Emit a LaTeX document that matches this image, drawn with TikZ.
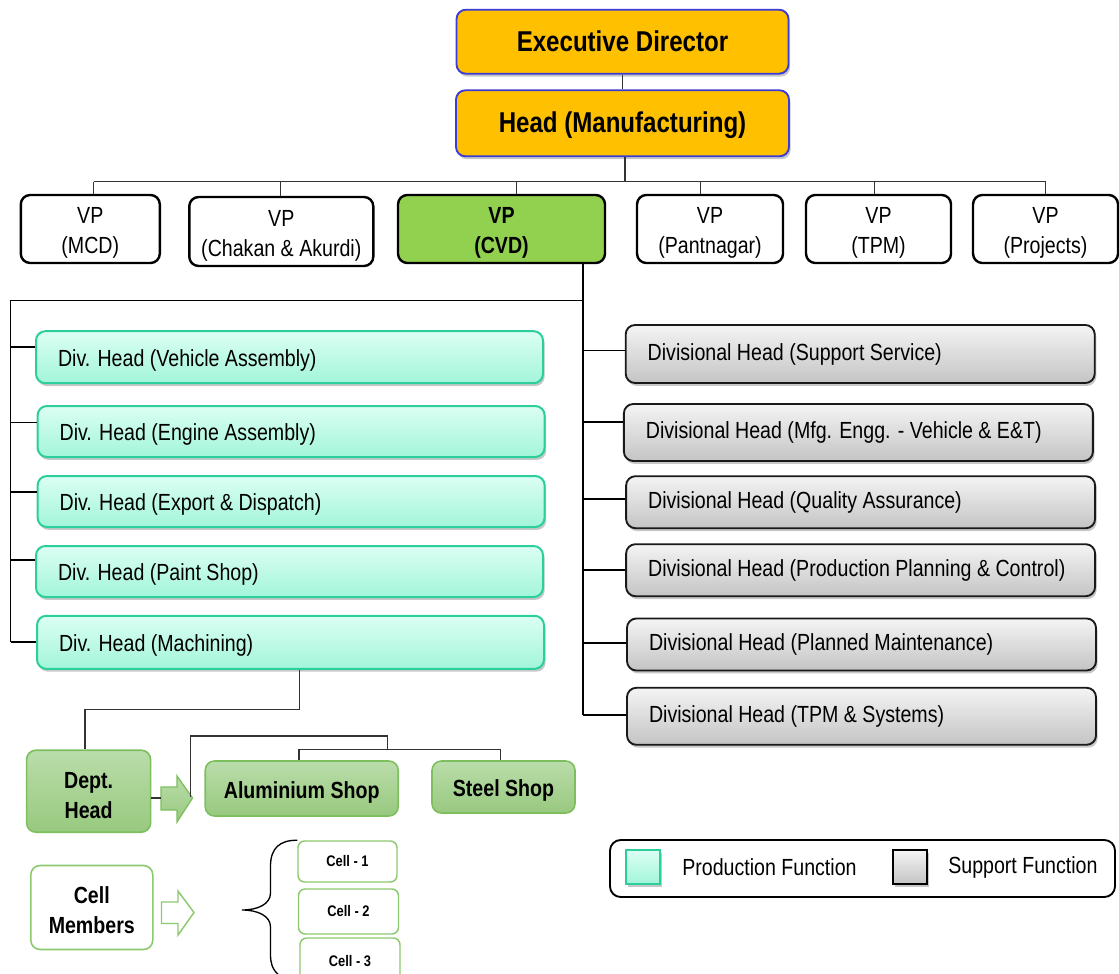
\documentclass[tikz,border=0pt]{standalone}
\usepackage{fontspec}
\setmainfont[FakeStretch=0.84]{Liberation Sans}
\usetikzlibrary{shadows}
\definecolor{gold}{HTML}{FFC000}
\definecolor{goldedge}{HTML}{3B3BD6}
\definecolor{cvdgreen}{HTML}{92D050}
\definecolor{minttop}{HTML}{DCFFF3}
\definecolor{mintbot}{HTML}{A2F5D9}
\definecolor{mintedge}{HTML}{2CCF9C}
\definecolor{graytop}{HTML}{F4F4F4}
\definecolor{graybot}{HTML}{C4C4C4}
\definecolor{deptop}{HTML}{BADDAA}
\definecolor{depbot}{HTML}{98C97F}
\definecolor{depedge}{HTML}{7DBF5E}
\definecolor{celledge}{HTML}{8CC96F}
\newcommand\mylbox[2]{\makebox[#1][l]{#2}}
\newcommand\mydown{\rule{0pt}{18.5pt}}
\begin{document}
\begin{tikzpicture}[x=0.75pt,y=-0.75pt,
  sz/.style 2 args={minimum width=#1*0.75pt, minimum height=#2*0.75pt},
  shade/.style={drop shadow={shadow xshift=1.2pt, shadow yshift=-2.2pt, opacity=0.22, fill=black}},
  base/.style={rounded corners=7pt, inner sep=0pt, font=\fontsize{17.5}{22.5}\selectfont, align=center},
  topbox/.style={base, fill=gold, draw=goldedge, line width=1.4pt, font=\fontsize{21.5}{26}\selectfont\bfseries, shade},
  vpbox/.style={base, draw=black, fill=white, line width=1.8pt},
  cvdbox/.style={vpbox, fill=cvdgreen, font=\fontsize{17.5}{22.5}\selectfont\bfseries},
  prod/.style={base, draw=mintedge, line width=1.5pt, top color=minttop, bottom color=mintbot, inner xsep=16.5pt, text height=17pt, text depth=3.7pt, shade},
  supp/.style={base, draw=black!90, line width=1.4pt, top color=graytop, bottom color=graybot, inner xsep=16.5pt, shade},
  dept/.style={base, draw=depedge, line width=1.2pt, top color=deptop, bottom color=depbot, font=\fontsize{17.5}{22}\selectfont\bfseries},
  cellm/.style={base, draw=celledge, line width=1.2pt, fill=white, font=\fontsize{17.5}{22.5}\selectfont\bfseries},
  cell/.style={base, rounded corners=5pt, draw=celledge, line width=1.1pt, fill=white, font=\fontsize{11.5}{14}\selectfont\bfseries},
  conn/.style={draw=black, line width=1.4pt},
  thinconn/.style={draw=black!80, line width=0.9pt},
  legsq/.style={inner sep=0pt, sz={34}{34}, line width=1.5pt, shade}
]
\useasboundingbox (0,0) rectangle (1119,973);

% top
\node[topbox, sz={332}{64}] (ed) at (622.5,41.7) {Executive Director};
\node[topbox, sz={333}{66}] (hm) at (622.5,123.3) {\rule{0pt}{19pt}Head (Manufacturing)};
\draw[thinconn] (ed.south) -- (hm.north);

% VPs
\node[vpbox, sz={139}{68}] (mcd) at (90.3,229) {\mydown VP\\(MCD)};
\node[vpbox, sz={184}{69}] (chak) at (281.3,231.5) {\mydown VP\\(Chakan \& Akurdi)};
\node[cvdbox, sz={207}{68}] (cvd) at (501.5,229) {\mydown VP\\(CVD)};
\node[vpbox, sz={146}{68}] (pant) at (710,229) {\mydown VP\\(Pantnagar)};
\node[vpbox, sz={145}{68}] (tpm) at (878.5,229) {\mydown VP\\(TPM)};
\node[vpbox, sz={145}{68}] (proj) at (1045.5,229) {\mydown VP\\(Projects)};

\coordinate (bus) at (625,181.7);
\draw[thinconn] (hm.south -| bus) -- (bus);
\draw[thinconn] (93.7,181.7) -- (1045.5,181.7);
\draw[thinconn] (93.7,181.7) -- (mcd.north -| 93.7,0);
\draw[thinconn] (280.6,181.7) -- (chak.north -| 280.6,0);
\draw[thinconn] (516.4,181.7) -- (cvd.north -| 516.4,0);
\draw[thinconn] (700.2,181.7) -- (pant.north -| 700.2,0);
\draw[thinconn] (874.2,181.7) -- (tpm.north -| 874.2,0);
\draw[thinconn] (1045.5,181.7) -- (proj.north -| 1045.5,0);

% production boxes
\node[prod, sz={507}{52}] (va) at (289.5,357.2) {\mylbox{347.25pt}{Div. Head (Vehicle Assembly)}};
\node[prod, sz={507}{51}] (ea) at (291.1,431.5) {\mylbox{347.25pt}{Div. Head (Engine Assembly)}};
\node[prod, sz={507}{51}] (ex) at (291.1,501.5) {\mylbox{347.25pt}{Div. Head (Export \& Dispatch)}};
\node[prod, sz={507}{51}] (ps) at (289.5,571.5) {\mylbox{347.25pt}{Div. Head (Paint Shop)}};
\node[prod, sz={507}{53}] (mc) at (290.5,642.3) {\mylbox{347.25pt}{Div. Head (Machining)}};

% support boxes
\node[supp, sz={469}{58}] (ss) at (860.2,354) {\mylbox{318.75pt}{Divisional Head (Support Service)}};
\node[supp, sz={469}{57}] (me) at (858.4,432.5) {\mylbox{318.75pt}{Divisional Head (Mfg. Engg. - Vehicle \& E\&T)}};
\node[supp, sz={469}{52}] (qa) at (860.6,502.2) {\mylbox{318.75pt}{Divisional Head (Quality Assurance)}};
\node[supp, sz={469}{52}] (ppc) at (860.6,570.2) {\mylbox{318.75pt}{Divisional Head (Production Planning \& Control)}};
\node[supp, sz={469}{52}] (pm) at (861.5,644.5) {\mylbox{318.75pt}{Divisional Head (Planned Maintenance)}};
\node[supp, sz={469}{57}] (ts) at (861.5,716.3) {\mylbox{318.75pt}{Divisional Head (TPM \& Systems)}};

% CVD structure
\coordinate (rb) at (583.3,715.3);
\draw[conn] (cvd.south -| rb) -- (rb);
\draw[conn] (583.3,300.5) -- (10.5,300.5) -- (10.5,642.3);
\draw[conn] (10.5,347.3) -- (va.west |- 0,347.3);
\draw[conn] (10.5,422.5) -- (ea.west |- 0,422.5);
\draw[conn] (10.5,491.7) -- (ex.west |- 0,491.7);
\draw[conn] (10.5,560) -- (ps.west |- 0,560);
\draw[conn] (10.5,642.3) -- (mc.west |- 0,642.3);

\draw[conn] (583.3,350.5) -- (ss.west |- 0,350.5);
\draw[conn] (583.3,421.7) -- (me.west |- 0,421.7);
\draw[conn] (583.3,499) -- (qa.west |- 0,499);
\draw[conn] (583.3,570) -- (ppc.west |- 0,570);
\draw[conn] (583.3,642.7) -- (pm.west |- 0,642.7);
\draw[conn] (583.3,715.3) -- (ts.west |- 0,715.3);

% department level
\node[dept, sz={124}{82}] (dh) at (88.6,791.2) {\mydown Dept.\\Head};
\node[dept, sz={193}{55}] (alu) at (301.7,788.5) {\rule{0pt}{18pt}Aluminium Shop};
\node[dept, sz={143}{52}] (st) at (503.5,787) {\rule{0pt}{18pt}Steel Shop};

\draw[thinconn, line width=1.1pt] (mc.south -| 299.5,0) -- (299.5,709.3) -- (85,709.3) -- (dh.north -| 85,0);

\draw[draw=depedge, line width=1pt, top color=deptop, bottom color=depbot]
  (161,787) -- (177,787) -- (177,776) -- (192.5,798) -- (177,822) -- (177,810) -- (161,810) -- cycle;
\coordinate (tip1) at (190.6,797);
\draw[thinconn, line width=1.1pt] (dh.east |- 0,798) -- (161,798);
\draw[thinconn, line width=1.1pt] (tip1) -- (190.6,736) -- (387.3,736) -- (387.3,749.7);
\draw[thinconn, line width=1.1pt] (alu.north -| 299,0) -- (299,749.7) -- (500.6,749.7) -- (st.north -| 500.6,0);

% cells
\node[cellm, sz={122}{84}] (cm) at (91.8,907.5) {\rule{0pt}{16pt}Cell\\Members};
\draw[draw=celledge, line width=1.1pt, fill=white]
  (161.5,902) -- (178,902) -- (178,891) -- (194,912.5) -- (178,935) -- (178,923.5) -- (161.5,923.5) -- cycle;

\node[cell, sz={99}{41}] (c1) at (347.5,861.5) {Cell - 1};
\node[cell, sz={100}{45}] (c2) at (348.5,911.5) {Cell - 2};
\node[cell, sz={100}{47}] (c3) at (350,961.5) {Cell - 3};

\draw[line width=1pt] (c1.north west) .. controls (280,840) and (270.5,848) .. (270.5,866)
  -- (270.5,893) .. controls (270.5,904) and (258,910) .. (242,910)
  .. controls (258,910) and (270.5,916) .. (270.5,927)
  -- (270.5,955) .. controls (270.5,972) and (280,980) .. (298,980);

% legend
\node[draw=black, line width=1.4pt, rounded corners=8pt, inner sep=0pt, sz={505}{57}] (leg) at (862.5,868.5) {};
\node[legsq, draw=mintedge, top color=minttop, bottom color=mintbot] (lp) at (643,867) {};
\node[legsq, draw=black, top color=graytop, bottom color=graybot] (ls) at (910,867) {};
\node[anchor=west, inner sep=0pt, font=\fontsize{17.5}{22.5}\selectfont] (lpt) at (682,867) {Production Function};
\node[anchor=west, inner sep=0pt, font=\fontsize{17.5}{22.5}\selectfont] (lst) at (948,867) {Support Function};
\end{tikzpicture}
\end{document}
